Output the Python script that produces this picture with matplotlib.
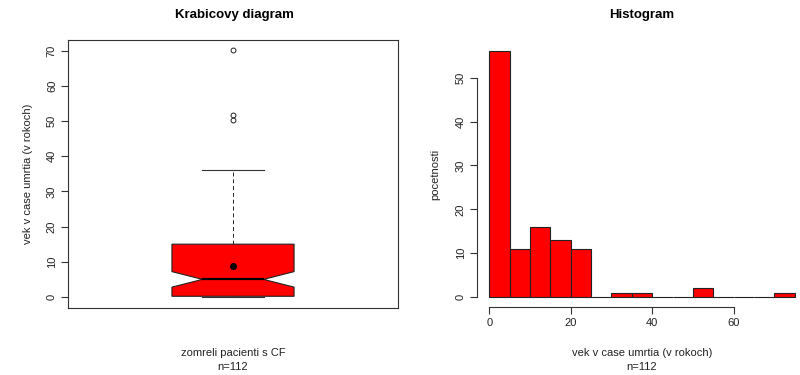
import matplotlib
matplotlib.use("Agg")
import matplotlib.pyplot as plt
import numpy as np

plt.rcParams['font.family'] = ['Liberation Sans', 'DejaVu Sans']

# Box plot summary (age at death, years)
box_median = 5.0
box_q1 = 0.2
box_q3 = 15.0
box_whislo = 0.0
box_whishi = 36.2
box_mean = 8.9
box_ci = [2.8, 7.2]
box_fliers = [50.2, 51.8, 70.3]

# Histogram
bin_edges = [0, 5, 10, 15, 20, 25, 30, 35, 40, 45, 50, 55, 60, 65, 70, 75]
counts = [56, 11, 16, 13, 11, 0, 1, 1, 0, 0, 2, 0, 0, 0, 1]

left_yticks = [0, 10, 20, 30, 40, 50, 60, 70]
hist_xticks = [0, 20, 40, 60]
hist_yticks = [0, 10, 20, 30, 40, 50]

W, H = 800, 375
fig = plt.figure(figsize=(8, 3.75), dpi=100)

def fx(px):
    return px / W

def fy(py):
    return 1 - py / H

TS = 8
TC = '#222222'

# ---- Left: boxplot ----
ax1 = fig.add_axes([fx(68), fy(308), fx(330), (308 - 40) / H])
stats = [dict(med=box_median, q1=box_q1, q3=box_q3, whislo=box_whislo,
              whishi=box_whishi, fliers=box_fliers, mean=box_mean,
              cilo=box_ci[0], cihi=box_ci[1])]
ax1.bxp(stats, positions=[1], widths=0.37, shownotches=True, patch_artist=True,
        showmeans=True, showfliers=True,
        boxprops=dict(facecolor='red', edgecolor='#222222', linewidth=0.8),
        medianprops=dict(color='black', linewidth=1.6),
        whiskerprops=dict(color='#222222', linewidth=0.7, linestyle=(0, (4, 3))),
        capprops=dict(color='#333333', linewidth=0.8),
        flierprops=dict(marker='o', markersize=3.5, markerfacecolor='none',
                        markeredgecolor='#222222', markeredgewidth=0.7),
        meanprops=dict(marker='o', markersize=4, markerfacecolor='black',
                       markeredgecolor='black'))
ax1.set_xlim(0.5, 1.5)
ax1.set_ylim(-3.13, 73.0)
ax1.set_xticks([])
ax1.set_yticks(left_yticks)
ax1.set_yticklabels([str(v) for v in left_yticks], rotation=90, va='center')
ax1.tick_params(axis='y', direction='out', length=5, width=0.8, labelsize=TS, pad=3,
                color='#333333', labelcolor=TC)
for s in ax1.spines.values():
    s.set_linewidth(0.8)
    s.set_color('#333333')

fig.text(fx(234), fy(15), 'Krabicovy diagram', ha='center', va='center',
         fontsize=9.5, fontweight='bold', color='black')
fig.text(fx(28), fy(174), 'vek v case umrtia (v rokoch)', ha='center', va='center',
         rotation=90, fontsize=TS, color=TC)
fig.text(fx(233), fy(353), 'zomreli pacienti s CF', ha='center', va='center', fontsize=TS, color=TC)
fig.text(fx(233), fy(367), 'n=112', ha='center', va='center', fontsize=TS, color=TC)

# ---- Right: histogram ----
ax2 = fig.add_axes([fx(477), fy(307), fx(330), (307 - 41.5) / H])
ax2.hist(bin_edges[:-1], bins=bin_edges, weights=counts, color='red',
         edgecolor='#222222', linewidth=0.8)
ax2.set_xlim(-3, 78)
ax2.set_ylim(-2.24, 58.24)
for side in ['top', 'right']:
    ax2.spines[side].set_visible(False)
ax2.spines['left'].set_bounds(0, 50)
ax2.spines['bottom'].set_bounds(0, 60)
for side in ['left', 'bottom']:
    ax2.spines[side].set_linewidth(0.8)
    ax2.spines[side].set_color('#333333')
ax2.set_xticks(hist_xticks)
ax2.set_yticks(hist_yticks)
ax2.set_yticklabels([str(v) for v in hist_yticks], rotation=90, va='center')
ax2.tick_params(direction='out', length=5, width=0.8, labelsize=TS, pad=3,
                color='#333333', labelcolor=TC)

fig.text(fx(642), fy(15), 'Histogram', ha='center', va='center',
         fontsize=9.5, fontweight='bold', color='black')
fig.text(fx(435), fy(174), 'pocetnosti', ha='center', va='center',
         rotation=90, fontsize=TS, color=TC)
fig.text(fx(642), fy(353), 'vek v case umrtia (v rokoch)', ha='center', va='center', fontsize=TS, color=TC)
fig.text(fx(642), fy(367), 'n=112', ha='center', va='center', fontsize=TS, color=TC)

fig.savefig('out.png', dpi=100)
